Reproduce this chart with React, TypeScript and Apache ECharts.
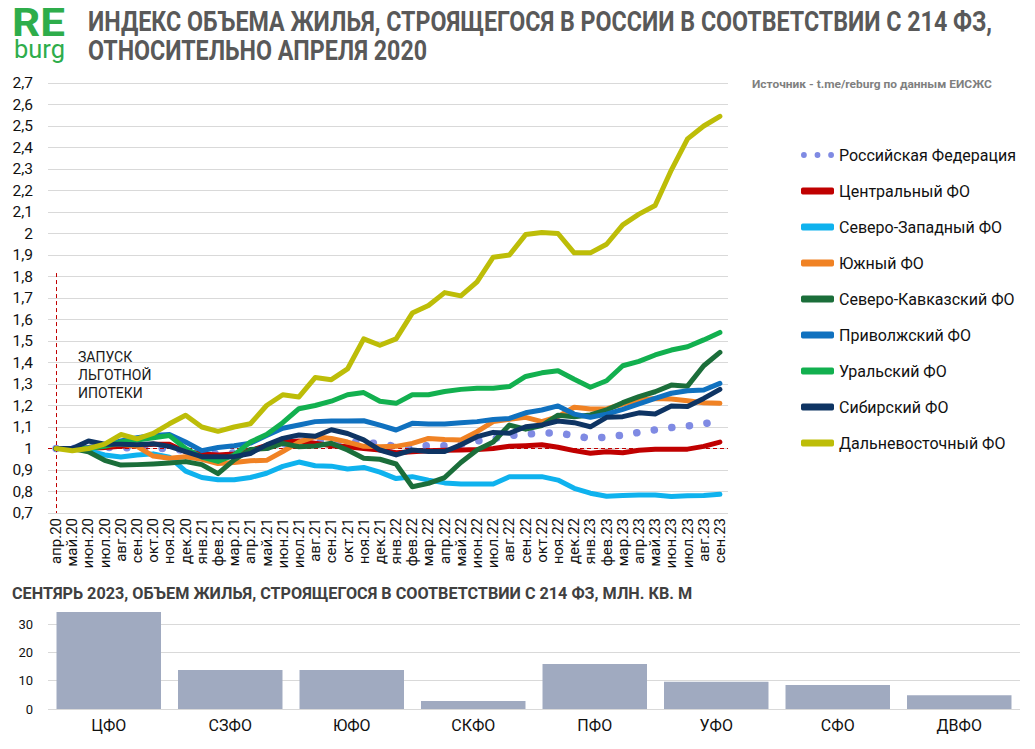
import React, { useEffect, useRef } from "react";
import * as echarts from "echarts";

const months = ['апр.20','май.20','июн.20','июл.20','авг.20','сен.20','окт.20','ноя.20','дек.20','янв.21','фев.21','мар.21','апр.21','май.21','июн.21','июл.21','авг.21','сен.21','окт.21','ноя.21','дек.21','янв.22','фев.22','мар.22','апр.22','май.22','июн.22','июл.22','авг.22','сен.22','окт.22','ноя.22','дек.22','янв.23','фев.23','мар.23','апр.23','май.23','июн.23','июл.23','авг.23','сен.23'];

const rf = [1.0, 1.0, 1.0, 1.005, 1.005, 1.0, 1.0, 1.0, 0.99, 0.98, 0.975, 0.98, 0.99, 1.005, 1.02, 1.03, 1.03, 1.03, 1.03, 1.03, 1.02, 1.01, 1.01, 1.013, 1.013, 1.02, 1.035, 1.045, 1.06, 1.066, 1.072, 1.072, 1.06, 1.047, 1.053, 1.062, 1.075, 1.087, 1.097, 1.105, 1.115, 1.128];
const central = [1.0, 1.0, 1.0, 1.005, 1.01, 1.015, 1.02, 1.02, 0.985, 0.975, 0.97, 0.975, 0.99, 1.015, 1.03, 1.035, 1.025, 1.013, 1.008, 1.0, 0.993, 0.98, 0.985, 0.99, 0.992, 0.993, 0.995, 1.0, 1.01, 1.013, 1.017, 1.006, 0.99, 0.978, 0.985, 0.98, 0.992, 0.997, 0.997, 0.997, 1.01, 1.03];
const northWest = [1.0, 1.0, 0.99, 0.97, 0.96, 0.97, 0.975, 0.96, 0.895, 0.865, 0.855, 0.855, 0.865, 0.885, 0.917, 0.937, 0.92, 0.918, 0.905, 0.912, 0.89, 0.86, 0.869, 0.853, 0.84, 0.835, 0.835, 0.835, 0.869, 0.869, 0.869, 0.853, 0.815, 0.792, 0.778, 0.781, 0.784, 0.784, 0.777, 0.78, 0.781, 0.787];
const south = [1.0, 1.0, 1.005, 1.015, 1.02, 1.01, 0.965, 0.955, 0.962, 0.95, 0.93, 0.935, 0.943, 0.945, 0.986, 1.03, 1.055, 1.047, 1.03, 1.01, 1.008, 1.01, 1.024, 1.047, 1.042, 1.04, 1.078, 1.125, 1.136, 1.145, 1.125, 1.148, 1.192, 1.184, 1.184, 1.207, 1.226, 1.233, 1.23, 1.222, 1.213, 1.21];
const northCaucasus = [1.0, 1.0, 0.985, 0.945, 0.923, 0.925, 0.928, 0.932, 0.939, 0.925, 0.883, 0.947, 0.995, 1.0, 1.024, 1.008, 1.012, 1.024, 0.993, 0.955, 0.95, 0.928, 0.822, 0.838, 0.865, 0.935, 0.993, 1.03, 1.109, 1.09, 1.107, 1.155, 1.148, 1.156, 1.179, 1.213, 1.241, 1.264, 1.295, 1.29, 1.385, 1.447];
const volga = [1.0, 1.0, 1.005, 1.015, 1.035, 1.05, 1.06, 1.065, 1.03, 0.99, 1.005, 1.013, 1.025, 1.06, 1.094, 1.109, 1.125, 1.128, 1.128, 1.129, 1.109, 1.086, 1.117, 1.114, 1.114, 1.12, 1.125, 1.135, 1.14, 1.166, 1.179, 1.198, 1.16, 1.145, 1.16, 1.182, 1.207, 1.233, 1.257, 1.269, 1.272, 1.303];
const ural = [1.0, 1.0, 1.0, 1.01, 1.03, 1.04, 1.05, 1.06, 1.0, 0.96, 0.94, 0.97, 1.03, 1.065, 1.12, 1.185, 1.2, 1.22, 1.25, 1.26, 1.22, 1.21, 1.25, 1.25, 1.265, 1.275, 1.28, 1.28, 1.288, 1.335, 1.352, 1.362, 1.322, 1.285, 1.315, 1.385, 1.405, 1.435, 1.458, 1.473, 1.505, 1.54];
const siberia = [1.0, 1.0, 1.035, 1.02, 1.02, 1.017, 1.022, 1.01, 0.985, 0.962, 0.962, 0.962, 0.977, 1.017, 1.047, 1.063, 1.057, 1.087, 1.07, 1.04, 0.993, 0.97, 0.993, 0.986, 0.986, 1.017, 1.055, 1.075, 1.071, 1.101, 1.109, 1.128, 1.12, 1.101, 1.145, 1.148, 1.166, 1.16, 1.198, 1.195, 1.233, 1.275];
const farEast = [1.0, 0.99, 1.0, 1.02, 1.065, 1.045, 1.07, 1.115, 1.155, 1.1, 1.08, 1.1, 1.115, 1.2, 1.25, 1.24, 1.33, 1.32, 1.37, 1.51, 1.48, 1.51, 1.63, 1.665, 1.725, 1.71, 1.775, 1.89, 1.9, 1.995, 2.005, 2.0, 1.91, 1.91, 1.95, 2.04, 2.09, 2.13, 2.295, 2.44, 2.5, 2.545];

const seriesNames = ['Российская Федерация','Центральный ФО','Северо-Западный ФО','Южный ФО','Северо-Кавказский ФО','Приволжский ФО','Уральский ФО','Сибирский ФО','Дальневосточный ФО'];
const seriesData = [rf, central, northWest, south, northCaucasus, volga, ural, siberia, farEast];
const seriesColors = ['#7F8AE3','#C00000','#0FB2EE','#F08224','#1B6E3A','#1071BF','#12B04F','#0E3463','#BDBD08'];

const regions = ['ЦФО','СЗФО','ЮФО','СКФО','ПФО','УФО','СФО','ДВФО'];
const volumes = [34.3, 13.8, 13.8, 2.8, 15.9, 9.6, 8.5, 4.9];

const titleLine1 = 'ИНДЕКС ОБЪЕМА ЖИЛЬЯ, СТРОЯЩЕГОСЯ В РОССИИ В СООТВЕТСТВИИ С 214 ФЗ,';
const titleLine2 = 'ОТНОСИТЕЛЬНО АПРЕЛЯ 2020';
const sourceText = 'Источник - t.me/reburg по данным ЕИСЖС';
const barTitle = 'СЕНТЯРЬ 2023, ОБЪЕМ ЖИЛЬЯ, СТРОЯЩЕГОСЯ В СООТВЕТСТВИИ С 214 ФЗ, МЛН. КВ. М';
const annotation = ['ЗАПУСК', 'ЛЬГОТНОЙ', 'ИПОТЕКИ'];

function measure(text: string, font: string): number {
  const c = document.createElement('canvas').getContext('2d');
  if (!c) return text.length * 10;
  c.font = font;
  return c.measureText(text).width;
}

function fitText(text: string, font: string, x: number, y: number, width: number, fill: string, scaleOverride?: number) {
  const s = scaleOverride ?? width / measure(text, font);
  return {
    type: 'text',
    x, y,
    scaleX: s,
    silent: true,
    style: { text, font, fill, align: 'left', verticalAlign: 'middle', textAlign: 'left', textVerticalAlign: 'middle' },
  };
}

const dotsIcon = 'path://M0,3a3,3 0 1,0 6,0a3,3 0 1,0 -6,0Z M14,3a3,3 0 1,0 6,0a3,3 0 1,0 -6,0Z M28,3a3,3 0 1,0 6,0a3,3 0 1,0 -6,0Z';

export default function App() {
  const ref = useRef<HTMLDivElement>(null);
  useEffect(() => {
    document.body.style.margin = '0';
    if (!ref.current) return;
    const chart = echarts.init(ref.current, null, { renderer: 'svg' });

    const titleFont = 'bold 28px Roboto';
    const tScale = 905 / measure(titleLine1, titleFont);

    const lineSeries: any[] = seriesNames.map((name, i) => {
      const isRF = i === 0;
      const s: any = {
        name,
        type: 'line',
        xAxisIndex: 0,
        yAxisIndex: 0,
        data: seriesData[i],
        symbol: 'none',
        color: seriesColors[i],
        z: 2 + i,
        lineStyle: isRF
          ? { width: 7.5, color: seriesColors[i], type: [0.1, 17.6], cap: 'round' }
          : { width: 5, color: seriesColors[i], cap: 'round', join: 'round' },
      };
      if (isRF) {
        s.markLine = {
          silent: true,
          symbol: 'none',
          label: { show: false },
          lineStyle: { color: '#C00000', type: [4, 3], width: 1 },
          data: [
            { yAxis: 1 },
            [{ coord: [months[0], 1.816] }, { coord: [months[0], 0.7] }],
          ],
        };
      }
      return s;
    });

    const option: any = {
      animation: false,
      backgroundColor: '#ffffff',
      textStyle: { fontFamily: 'Roboto' },
      grid: [
        { left: 48, top: 83, width: 680, height: 430 },
        { left: 48, top: 610, width: 972, height: 99 },
      ],
      legend: {
        orient: 'vertical',
        left: 801,
        top: 147,
        padding: 0,
        itemWidth: 33,
        itemHeight: 7,
        itemGap: 20,
        textStyle: { fontSize: 16, color: '#111', lineHeight: 16, fontFamily: 'Roboto' },
        data: seriesNames.map((n, i) => ({ name: n, icon: i === 0 ? dotsIcon : 'roundRect' })),
      },
      xAxis: [
        {
          type: 'category',
          gridIndex: 0,
          data: months,
          boundaryGap: true,
          axisLine: { show: false },
          axisTick: { show: false },
          axisLabel: { interval: 0, rotate: 90, fontSize: 15, color: '#111', margin: 5 },
        },
        {
          type: 'category',
          gridIndex: 1,
          data: regions,
          axisLine: { show: false },
          axisTick: { show: false },
          axisLabel: { fontSize: 16, color: '#111', margin: 8 },
        },
      ],
      yAxis: [
        {
          type: 'value',
          gridIndex: 0,
          min: 0.7,
          max: 2.7,
          interval: 0.1,
          axisLine: { show: false },
          axisTick: { show: false },
          splitLine: { lineStyle: { color: '#D9D9D9', width: 1 } },
          axisLabel: {
            fontSize: 15.5,
            color: '#111',
            margin: 15,
            formatter: (v: number) => String(Math.round(v * 10) / 10).replace('.', ','),
          },
        },
        {
          type: 'value',
          gridIndex: 1,
          min: 0,
          max: 35,
          interval: 10,
          axisLine: { show: false },
          axisTick: { show: false },
          splitLine: { lineStyle: { color: ['#D9D9D9', '#D9D9D9', '#D9D9D9', '#D9D9D9', 'rgba(0,0,0,0)'], width: 1 } },
          axisLabel: { fontSize: 13, color: '#111', margin: 15, showMaxLabel: false },
        },
      ],
      series: [
        ...lineSeries,
        {
          name: 'Объем',
          type: 'bar',
          xAxisIndex: 1,
          yAxisIndex: 1,
          data: volumes,
          barCategoryGap: '14%',
          itemStyle: { color: '#A0AAC0' },
        },
      ],
      graphic: [
        fitText('RE', 'bold 38px Roboto', 12, 23, 53, '#2EAD4B'),
        fitText('burg', '25px Roboto', 14, 50, 51, '#2EAD4B'),
        fitText(titleLine1, titleFont, 88, 21, 905, '#595959', tScale),
        fitText(titleLine2, titleFont, 88, 50, 0, '#595959', tScale),
        fitText(sourceText, 'bold 11px Roboto', 752, 84, 240, '#7F7F7F'),
        ...annotation.map((t, i) => ({
          type: 'text',
          x: 78,
          y: 357 + i * 18,
          silent: true,
          style: { text: t, font: '14px Roboto', fill: '#1a1a1a', align: 'left', verticalAlign: 'middle', textAlign: 'left', textVerticalAlign: 'middle' },
        })),
        fitText(barTitle, 'bold 17px Roboto', 12, 593, 681, '#404040'),
      ],
    };

    chart.setOption(option);
    return () => chart.dispose();
  }, []);
  return <div ref={ref} style={{ width: 1035, height: 749 }} />;
}
